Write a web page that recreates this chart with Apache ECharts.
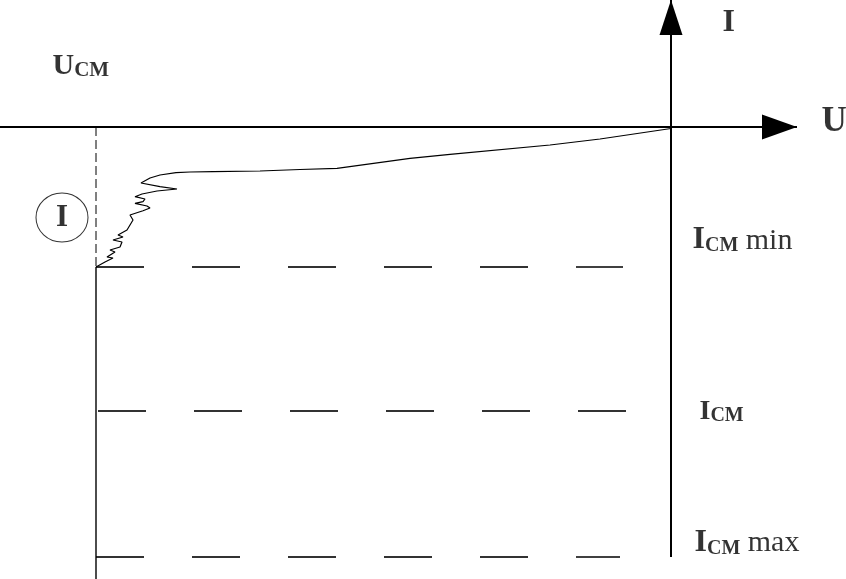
<!DOCTYPE html>
<html><head><meta charset="utf-8">
<script src="https://cdn.jsdelivr.net/npm/echarts@6/dist/echarts.min.js"></script>
<style>html,body{margin:0;padding:0;background:#fff}#c{width:846px;height:579px}</style>
</head><body><div id="c"></div>
<script>
// ---- data (arbitrary units: U horizontal, I vertical) ----
const uRange = [-6.71, 1.75];
const iRange = [-4.52, 1.27];
const U_CM = -5.75;                       // stabilisation voltage
const levelNames = ['min', '', 'max'];
const levelValues = [-1.40, -2.84, -4.30]; // Iсм min, Iсм, Iсм max
const levelStartU = [-5.75, -5.73, -5.75];
const levelEndU = [-0.48, -0.45, -0.51];
const axisUEnd = 1.26;                    // U-axis arrow tip
const axisIEnd = 1.27;                    // I-axis arrow tip
const axisIStart = -4.30;
const curveU = [0.00, -0.71, -1.21, -2.21, -2.61, -3.34, -3.71, -4.11, -4.58, -4.81, -4.95, -5.11, -5.21, -5.30,
  -5.11, -4.94, -5.14, -5.29, -5.36, -5.26, -5.28, -5.36, -5.24, -5.21, -5.28, -5.41, -5.38, -5.44, -5.53,
  -5.48, -5.58, -5.49, -5.51, -5.61, -5.56, -5.64, -5.58, -5.66, -5.75];
const curveI = [-0.015, -0.12, -0.18, -0.273, -0.313, -0.413, -0.425, -0.44, -0.447, -0.45, -0.457, -0.48, -0.51, -0.56,
  -0.597, -0.62, -0.64, -0.67, -0.697, -0.72, -0.747, -0.763, -0.79, -0.81, -0.837, -0.88, -0.93, -1.03, -1.08,
  -1.10, -1.13, -1.15, -1.20, -1.23, -1.25, -1.30, -1.31, -1.35, -1.40];
const circleMark = [-6.09, -0.905];

const FONT = 'Liberation Serif';
const curve = curveU.map((u, i) => [u, curveI[i]]);

function st(size, lh, weight) {
  return {fontSize: size, lineHeight: lh, verticalAlign: 'bottom', fontFamily: FONT, color: '#000', fontWeight: weight || 'bold'};
}
const richBase = {
  m: st(32, 32),
  m2: st(28, 28),
  u: st(30, 30),
  s: st(20, 16),
  su: st(21, 13),
  t: st(30, 32, 'normal')
};

function lbl(u, i, text) {
  return {value: [u, i], label: {show: true, position: 'right', distance: 0, formatter: text, rich: richBase}};
}
const textItems = [
  lbl(-6.19, 0.61, '{u|U}{su|СМ}'),
  lbl(0.51, 1.04, '{m|I}'),
  lbl(1.50, 0.05, '{m|U}'),
  lbl(0.21, -1.13, '{m|I}{s|СМ}{t| ' + levelNames[0] + '}'),
  lbl(0.28, -2.85, '{m2|I}{s|СМ}'),
  lbl(0.23, -4.155, '{m|I}{s|СМ}{t| ' + levelNames[2] + '}')
];
textItems[2].label.rich = Object.assign({}, richBase, {m: st(35, 35)});

const series = [];
// axes
series.push({type: 'line', data: [[uRange[0], 0], [axisUEnd, 0]], showSymbol: false, lineStyle: {color: '#000', width: 2}, silent: true});
series.push({type: 'line', data: [[0, axisIStart], [0, axisIEnd]], showSymbol: false, lineStyle: {color: '#000', width: 2}, silent: true});
// left vertical (dashed above, solid below)
series.push({type: 'line', data: [[U_CM, 0], [U_CM, levelValues[0]]], showSymbol: false, lineStyle: {color: '#000', width: 1, type: [9, 4]}, silent: true});
series.push({type: 'line', data: [[U_CM, levelValues[0]], [U_CM, iRange[0]]], showSymbol: false, lineStyle: {color: '#000', width: 1.4}, silent: true});
// dashed current levels
levelValues.forEach((v, k) => {
  series.push({type: 'line', data: [[levelStartU[k], v], [levelEndU[k], v]], showSymbol: false,
    lineStyle: {color: '#000', width: 1.6, type: [48, 48]}, silent: true});
});
// characteristic curve
series.push({type: 'line', data: curve, showSymbol: false, lineStyle: {color: '#000', width: 1.2}, silent: true});
// arrows
series.push({
  type: 'custom', data: [[axisUEnd, 0, 0, 35, 25], [0, axisIEnd, 90, 35, 23]], encode: {x: 0, y: 1}, clip: false, silent: true,
  renderItem: function (params, api) {
    const p = api.coord([api.value(0), api.value(1)]);
    const a = api.value(2) * Math.PI / 180;
    const L = api.value(3), W = api.value(4);
    const dx = Math.cos(a), dy = -Math.sin(a);
    const bx = p[0] - dx * L, by = p[1] - dy * L;
    const nx = -dy, ny = dx;
    return {type: 'polygon', shape: {points: [p, [bx + nx * W / 2, by + ny * W / 2], [bx - nx * W / 2, by - ny * W / 2]]},
      style: {fill: '#000'}};
  }
});
// circled "I"
series.push({type: 'scatter', data: [circleMark], symbol: 'circle', symbolSize: [52, 49], silent: true,
  itemStyle: {color: 'rgba(0,0,0,0)', borderColor: '#000', borderWidth: 1},
  label: {show: true, position: 'inside', formatter: 'I', fontFamily: FONT, fontSize: 31, fontWeight: 'bold', color: '#000'}});
// text labels
series.push({type: 'scatter', data: textItems, symbolSize: 1, itemStyle: {color: 'rgba(0,0,0,0)'}, silent: true});

const chart = echarts.init(document.getElementById('c'), null, {renderer: 'canvas'});
chart.setOption({
  animation: false,
  backgroundColor: '#fff',
  grid: {left: 0, right: 0, top: 0, bottom: 0},
  xAxis: {type: 'value', min: uRange[0], max: uRange[1], show: false},
  yAxis: {type: 'value', min: iRange[0], max: iRange[1], show: false},
  series: series
});
</script></body></html>
